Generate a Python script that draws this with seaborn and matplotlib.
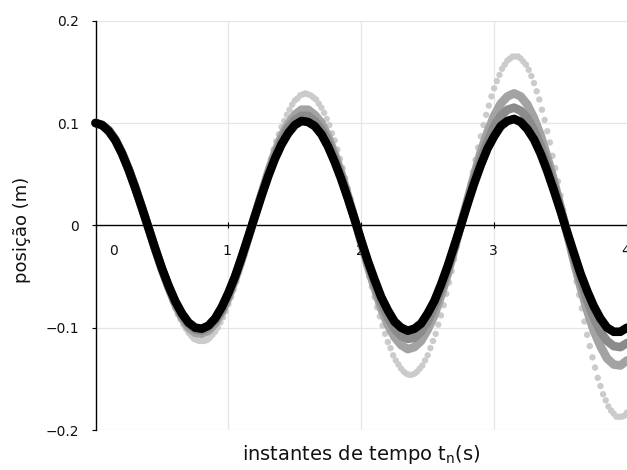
import numpy as np
import pandas as pd
import matplotlib
matplotlib.use("Agg")
import matplotlib.pyplot as plt
import seaborn as sns

# Sample instants (s)
t_dots = np.round(np.arange(201) * 0.02, 2)   # step 0.02 s
t_band = np.round(np.arange(81) * 0.05, 2)    # step 0.05 s

# Position (m) -- coarsest step, drawn as separate dots
pos_light = [
    0.100, 0.100, 0.099, 0.098, 0.096, 0.094, 0.090, 0.087, 0.082, 0.077,
    0.072, 0.066, 0.060, 0.053, 0.046, 0.038, 0.030, 0.022, 0.014, 0.006,
    -0.003, -0.011, -0.020, -0.028, -0.037, -0.045, -0.053, -0.060, -0.067, -0.074,
    -0.081, -0.087, -0.092, -0.097, -0.101, -0.105, -0.108, -0.111, -0.112, -0.113,
    -0.113, -0.113, -0.112, -0.110, -0.107, -0.104, -0.100, -0.095, -0.090, -0.084,
    -0.077, -0.070, -0.063, -0.055, -0.046, -0.038, -0.029, -0.019, -0.010, -0.000,
    0.009, 0.019, 0.029, 0.038, 0.047, 0.056, 0.065, 0.074, 0.082, 0.089,
    0.096, 0.102, 0.108, 0.113, 0.118, 0.122, 0.124, 0.127, 0.128, 0.129,
    0.128, 0.127, 0.125, 0.123, 0.119, 0.115, 0.110, 0.104, 0.098, 0.090,
    0.083, 0.074, 0.065, 0.056, 0.046, 0.036, 0.026, 0.015, 0.004, -0.007,
    -0.018, -0.029, -0.039, -0.050, -0.060, -0.070, -0.080, -0.089, -0.098, -0.106,
    -0.114, -0.120, -0.127, -0.132, -0.136, -0.140, -0.143, -0.145, -0.146, -0.146,
    -0.145, -0.143, -0.140, -0.137, -0.132, -0.127, -0.120, -0.113, -0.106, -0.097,
    -0.088, -0.078, -0.067, -0.056, -0.045, -0.033, -0.021, -0.009, 0.003, 0.016,
    0.028, 0.040, 0.052, 0.064, 0.076, 0.087, 0.098, 0.108, 0.117, 0.126,
    0.134, 0.141, 0.147, 0.153, 0.157, 0.161, 0.163, 0.165, 0.165, 0.165,
    0.163, 0.160, 0.157, 0.152, 0.146, 0.139, 0.131, 0.123, 0.113, 0.103,
    0.092, 0.081, 0.068, 0.056, 0.043, 0.029, 0.015, 0.001, -0.013, -0.027,
    -0.041, -0.055, -0.068, -0.081, -0.094, -0.107, -0.118, -0.129, -0.139, -0.149,
    -0.157, -0.165, -0.171, -0.177, -0.181, -0.184, -0.187, -0.187, -0.187, -0.186,
    -0.183,
]

# Position (m) -- finer steps, dense enough to read as solid bands
pos_mid = [
    0.100, 0.098, 0.093, 0.084, 0.071, 0.055, 0.037, 0.017, -0.003, -0.024,
    -0.043, -0.061, -0.077, -0.090, -0.100, -0.105, -0.106, -0.103, -0.096, -0.085,
    -0.071, -0.053, -0.034, -0.012, 0.010, 0.031, 0.052, 0.071, 0.087, 0.099,
    0.108, 0.113, 0.113, 0.108, 0.100, 0.087, 0.070, 0.051, 0.029, 0.006,
    -0.017, -0.040, -0.061, -0.081, -0.097, -0.109, -0.117, -0.121, -0.119, -0.113,
    -0.102, -0.088, -0.069, -0.048, -0.024, 0.001, 0.025, 0.049, 0.072, 0.091,
    0.107, 0.119, 0.126, 0.129, 0.126, 0.118, 0.105, 0.088, 0.067, 0.044,
    0.018, -0.008, -0.035, -0.060, -0.083, -0.103, -0.118, -0.130, -0.136, -0.137,
    -0.132,
]
pos_dark = [
    0.100, 0.098, 0.093, 0.083, 0.070, 0.055, 0.037, 0.017, -0.003, -0.023,
    -0.043, -0.060, -0.076, -0.088, -0.097, -0.102, -0.103, -0.100, -0.093, -0.083,
    -0.068, -0.051, -0.032, -0.012, 0.009, 0.030, 0.050, 0.067, 0.083, 0.095,
    0.103, 0.107, 0.107, 0.102, 0.094, 0.082, 0.066, 0.048, 0.027, 0.006,
    -0.016, -0.037, -0.057, -0.075, -0.090, -0.101, -0.108, -0.111, -0.110, -0.104,
    -0.094, -0.080, -0.063, -0.043, -0.022, 0.001, 0.023, 0.045, 0.065, 0.082,
    0.097, 0.107, 0.113, 0.115, 0.112, 0.105, 0.093, 0.078, 0.060, 0.039,
    0.016, -0.007, -0.031, -0.053, -0.073, -0.090, -0.104, -0.113, -0.118, -0.119,
    -0.115,
]
pos_black = [
    0.100, 0.098, 0.092, 0.083, 0.070, 0.054, 0.036, 0.017, -0.003, -0.023,
    -0.042, -0.059, -0.074, -0.086, -0.095, -0.100, -0.101, -0.098, -0.091, -0.080,
    -0.066, -0.050, -0.031, -0.011, 0.009, 0.029, 0.048, 0.065, 0.079, 0.090,
    0.098, 0.102, 0.101, 0.097, 0.089, 0.077, 0.062, 0.045, 0.026, 0.006,
    -0.015, -0.035, -0.053, -0.070, -0.083, -0.094, -0.100, -0.103, -0.101, -0.096,
    -0.086, -0.074, -0.058, -0.040, -0.020, 0.000, 0.021, 0.041, 0.059, 0.075,
    0.087, 0.097, 0.102, 0.104, 0.101, 0.094, 0.084, 0.070, 0.053, 0.034,
    0.014, -0.007, -0.027, -0.047, -0.064, -0.079, -0.091, -0.100, -0.104, -0.104,
    -0.100,
]

x_ticks = [0, 1, 2, 3, 4]
x_tick_labels = ["0", "1", "2", "3", "4"]
y_ticks = [-0.2, -0.1, 0, 0.1, 0.2]
y_tick_labels = ["\u22120.2", "\u22120.1", "0", "0.1", "0.2"]

sns.set_theme(style="white")
plt.rcParams["font.family"] = ["DejaVu Sans"]

fig = plt.figure(figsize=(6.27, 4.70), dpi=100)
ax = fig.add_axes([95.5 / 627, 40 / 470, (627 - 95.5) / 627, (430 - 20.7) / 470])

grid_col = "#e6e6e6"
for gx in [1, 2, 3]:
    ax.axvline(gx, color=grid_col, lw=0.9, zorder=0)
for gy in [-0.2, -0.1, 0.1, 0.2]:
    ax.axhline(gy, color=grid_col, lw=0.9, zorder=0)

df_dots = pd.DataFrame({"t": t_dots, "x": pos_light})
sns.scatterplot(data=df_dots, x="t", y="x", ax=ax, color="#cbcbcb", s=21,
                linewidth=0, edgecolor="none", zorder=1, clip_on=False)

bands = [(pos_mid, "#a3a3a3"), (pos_dark, "#8b8b8b"), (pos_black, "#000000")]
for i, (vals, col) in enumerate(bands):
    df = pd.DataFrame({"t": t_band, "x": vals})
    sns.lineplot(data=df, x="t", y="x", ax=ax, color=col, lw=6.2,
                 estimator=None, sort=False, solid_capstyle="round",
                 solid_joinstyle="round", zorder=3 + i, clip_on=False)

ax.set_xlim(0, 531.5 / 133.5)
ax.set_ylim(-0.2, 0.2)
ax.set_xlabel("")
ax.set_ylabel("")

for s in ["top", "right"]:
    ax.spines[s].set_visible(False)
ax.spines["bottom"].set_position(("data", 0))
for s in ["bottom", "left"]:
    ax.spines[s].set_color("black")
    ax.spines[s].set_linewidth(1.0)
    ax.spines[s].set_zorder(2.5)

ax.set_xticks(x_ticks)
ax.set_xticklabels([])
ax.set_yticks(y_ticks)
ax.set_yticklabels(y_tick_labels)
ax.tick_params(axis="x", bottom=True, direction="inout", length=5, width=0.8,
               color="black")
ax.tick_params(axis="y", left=True, direction="out", length=3, width=0.8,
               color="black", pad=9, labelsize=10, labelcolor="#111111")

# x tick labels sit just under the zero line; the first one is nudged off the y axis
offsets = [17.5, -1, -1, -1, -1]
for xv, lab, dx in zip(x_ticks, x_tick_labels, offsets):
    ax.annotate(lab, xy=(xv, 0), xytext=(dx * 0.72, -21.2),
                textcoords="offset points", ha="center", va="baseline",
                fontsize=10, color="#111111", annotation_clip=False)

fig.text(22 / 627, 1 - 230 / 470, "posição (m)", rotation=90, ha="center",
         va="center", fontsize=13, color="#111111")
fig.text(361 / 627, 10 / 470, "instantes de tempo t$\\mathregular{_n}$(s)",
         ha="center", va="baseline", fontsize=14, color="#111111")

fig.savefig("out.png", dpi=100)
